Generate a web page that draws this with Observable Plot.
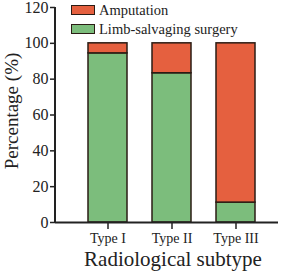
<!DOCTYPE html>
<html><head><meta charset="utf-8">
<script src="https://cdn.jsdelivr.net/npm/d3@7"></script>
<script src="https://cdn.jsdelivr.net/npm/@observablehq/plot@0.6"></script>
<style>
body{margin:0;background:#fff;}
#wrap{position:relative;width:283px;height:273px;font-family:"Liberation Serif","Times New Roman",Times,serif;color:#222;}
#wrap svg{position:absolute;left:0;top:0;}
#wrap svg text{font-family:"Liberation Serif","Times New Roman",Times,serif;}
.leg{position:absolute;left:71px;font-size:14.5px;line-height:14px;display:flex;align-items:center;white-space:nowrap;}
.sw{width:22px;height:8px;border:1.5px solid #2b1c14;margin-right:4px;}
#ylab{position:absolute;left:12px;top:111px;transform:translate(-50%,-50%) rotate(-90deg);font-size:19px;white-space:nowrap;}
#xlab{position:absolute;left:173px;top:247px;transform:translateX(-50%);font-size:21px;white-space:nowrap;}
</style></head><body><div id="wrap"></div>
<script>
const subtypes = ["Type I", "Type II", "Type III"];
const salvage = [94.4, 83.3, 11.1];
const amputation = [5.6, 16.7, 88.9];
const seriesNames = ["Limb-salvaging surgery", "Amputation"];
const seriesColors = ["#7cbd7c", "#e5603f"];
const yTicks = [0, 20, 40, 60, 80, 100, 120];
const legendOrder = ["Amputation", "Limb-salvaging surgery"];
const yTitle = "Percentage (%)";
const xTitle = "Radiological subtype";

const rows = [];
subtypes.forEach((t, i) => {
  rows.push({type: t, series: seriesNames[0], value: salvage[i]});
  rows.push({type: t, series: seriesNames[1], value: amputation[i]});
});

const chart = Plot.plot({
  width: 283, height: 273,
  marginLeft: 55, marginRight: 5, marginTop: 7, marginBottom: 51,
  style: {fontFamily: "'Liberation Serif', 'Times New Roman', serif", color: "#222", background: "white", overflow: "visible"},
  x: {domain: subtypes, paddingInner: 0.395, paddingOuter: 0.426, align: 0.58, label: null},
  y: {domain: [0, 120], label: null},
  color: {domain: seriesNames, range: seriesColors},
  marks: [
    Plot.barY(rows, {x: "type", y: "value", fill: "series", stroke: "#2b1c14", strokeWidth: 1.5, order: seriesNames}),
    Plot.axisY({ticks: yTicks, tickSize: 5, tickPadding: 2, fontSize: 16, label: null, strokeWidth: 1.5}),
    Plot.axisX({tickSize: 7, tickPadding: 4, fontSize: 14, label: null, strokeWidth: 1.5}),
    Plot.ruleY([0], {stroke: "#222", strokeWidth: 2})
  ]
});
const wrap = document.getElementById("wrap");
wrap.appendChild(chart);

// y axis line along the left edge of the frame
const svg = d3.select(chart);
const ys = chart.scale("y");
svg.append("line").attr("x1", 55).attr("x2", 55)
  .attr("y1", ys.apply(0) + 1).attr("y2", ys.apply(120))
  .attr("stroke", "#222").attr("stroke-width", 2);

legendOrder.forEach((name, i) => {
  const d = document.createElement("div");
  d.className = "leg";
  d.style.top = (3 + i * 18.5) + "px";
  const sw = document.createElement("div");
  sw.className = "sw";
  sw.style.background = seriesColors[seriesNames.indexOf(name)];
  d.appendChild(sw);
  d.appendChild(document.createTextNode(name));
  wrap.appendChild(d);
});
const yl = document.createElement("div"); yl.id = "ylab"; yl.textContent = yTitle; wrap.appendChild(yl);
const xl = document.createElement("div"); xl.id = "xlab"; xl.textContent = xTitle; wrap.appendChild(xl);
</script></body></html>
